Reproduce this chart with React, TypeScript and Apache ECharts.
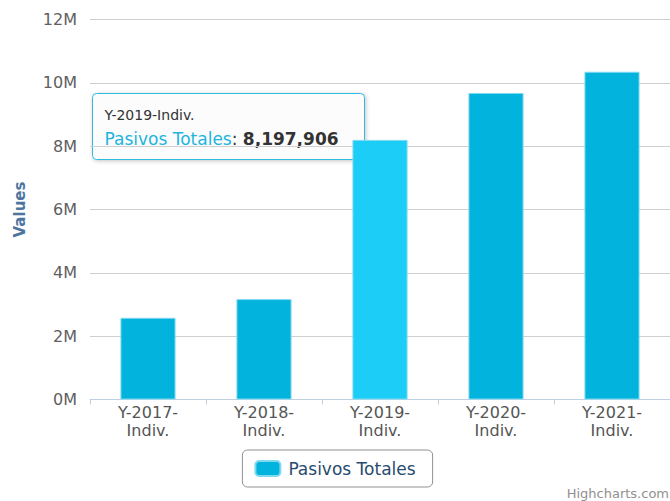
import React, { useEffect, useRef } from "react";
import * as echarts from "echarts";

const categories = ["Y-2017-Indiv.", "Y-2018-Indiv.", "Y-2019-Indiv.", "Y-2020-Indiv.", "Y-2021-Indiv."];
const pasivosTotales = [2580000, 3170000, 8197906, 9680000, 10350000];
const seriesName = "Pasivos Totales";
const hoveredIndex = 2;
const yTicks = [0, 2000000, 4000000, 6000000, 8000000, 10000000, 12000000];

const FONT = "'DejaVu Sans', Verdana, sans-serif";
const BAR = "#02b3de";
const BAR_HOVER = "#1ccdf7";

export default function App() {
  const ref = useRef<HTMLDivElement>(null);
  useEffect(() => {
    if (!ref.current) return;
    const chart = echarts.init(ref.current, null, { renderer: "svg" });
    const fmt = (n: number) => n.toLocaleString("en-US");
    chart.setOption({
      animation: false,
      grid: { left: 90, right: 0, top: 19.5, bottom: 101.5, containLabel: false },
      xAxis: {
        type: "category",
        data: categories,
        axisLine: { lineStyle: { color: "#c0d0e0", width: 1 } },
        axisTick: { show: true, length: 5, lineStyle: { color: "#c0d0e0" } },
        axisLabel: {
          color: "#555",
          fontFamily: FONT,
          fontSize: 16,
          lineHeight: 18,
          margin: 4,
          formatter: (v: string) => v.replace("-Indiv.", "-\nIndiv."),
        },
      },
      yAxis: {
        type: "value",
        min: yTicks[0],
        max: yTicks[yTicks.length - 1],
        interval: 2000000,
        name: "Values",
        nameLocation: "middle",
        nameGap: 63,
        nameRotate: 90,
        nameTextStyle: { color: "#4d759e", fontFamily: FONT, fontSize: 15, fontWeight: "bold" },
        axisLine: { show: false },
        axisTick: { show: false },
        splitLine: { lineStyle: { color: "#cfcfcf", width: 1 } },
        axisLabel: {
          color: "#606060",
          fontFamily: FONT,
          fontSize: 16,
          margin: 13,
          formatter: (v: number) => v / 1000000 + "M",
        },
      },
      legend: {
        show: true,
        left: "center",
        top: 450,
        itemWidth: 25,
        itemHeight: 15,
        itemGap: 8,
        padding: [10, 17, 10, 12],
        borderColor: "#909090",
        borderWidth: 1,
        borderRadius: 5,
        textStyle: { color: "#274b6d", fontFamily: FONT, fontSize: 17, padding: [0, 0, 0, 3] },
        data: [{ name: seriesName, icon: "roundRect", itemStyle: { color: BAR } }],
      },
      series: [
        {
          type: "bar",
          name: seriesName,
          barWidth: "47.5%",
          data: pasivosTotales.map((v, i) => ({
            value: v,
            itemStyle: { color: i === hoveredIndex ? BAR_HOVER : BAR },
          })),
          itemStyle: { borderColor: "#7fd9ef", borderWidth: 1 },
        },
      ],
      graphic: [
        {
          type: "group",
          left: 92,
          top: 93,
          children: [
            {
              type: "rect",
              shape: { x: 0, y: 0, width: 272, height: 66, r: 4 },
              style: {
                fill: "rgba(255,255,255,0.88)",
                stroke: "#2dbbe0",
                lineWidth: 1,
                shadowBlur: 4,
                shadowOffsetX: 1,
                shadowOffsetY: 1,
                shadowColor: "rgba(0,0,0,0.25)",
              },
            },
            {
              type: "text",
              x: 12,
              y: 21,
              style: {
                text: categories[hoveredIndex],
                fill: "#333",
                fontFamily: FONT,
                fontSize: 14,
                verticalAlign: "middle",
              },
            },
            {
              type: "text",
              x: 12,
              y: 45,
              style: {
                text: "{n|" + seriesName + "}{c|: }{v|" + fmt(pasivosTotales[hoveredIndex]) + "}",
                verticalAlign: "middle",
                rich: {
                  n: { fill: "#1cb5de", fontFamily: FONT, fontSize: 17 },
                  c: { fill: "#333", fontFamily: FONT, fontSize: 17 },
                  v: { fill: "#333", fontFamily: FONT, fontSize: 17, fontWeight: "bold" },
                },
              },
            },
          ],
        },
        {
          type: "text",
          right: 1,
          bottom: 1,
          style: { text: "Highcharts.com", fill: "#909090", fontFamily: FONT, fontSize: 13 },
        },
      ],
    });
    return () => chart.dispose();
  }, []);
  return (
    <div
      ref={ref}
      style={{ position: "fixed", left: 0, top: 0, width: 670, height: 501, background: "#fff" }}
    />
  );
}
